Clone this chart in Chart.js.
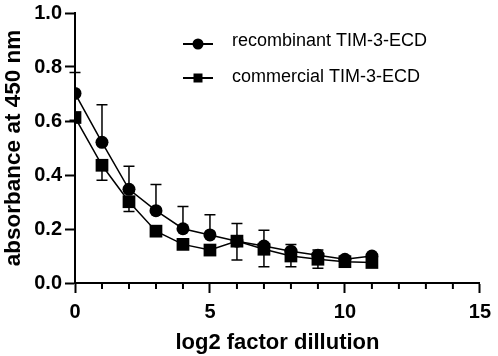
<!DOCTYPE html>
<html>
<head>
<meta charset="utf-8">
<script src="https://cdn.jsdelivr.net/npm/chart.js@4.4.0/dist/chart.umd.min.js"></script>
<style>
  html, body { margin: 0; padding: 0; background: #ffffff; }
  #wrap { width: 498px; height: 356px; }
</style>
</head>
<body>
<div id="wrap"><canvas id="elisa-chart" width="498" height="356"></canvas></div>
<script>
// dilution steps (log2)
const dilutions = [0, 1, 2, 3, 4, 5, 6, 7, 8, 9, 10, 11];

// recombinant TIM-3-ECD
const recombinant = [0.702, 0.521, 0.347, 0.268, 0.201, 0.178, 0.155, 0.137, 0.118, 0.103, 0.088, 0.100];
const recombinantErrUp = [0.078, 0.139, 0.085, 0.097, 0.082, 0.075, 0.065, 0.058, 0.025, 0.019, 0.008, 0.008];

// commercial TIM-3-ECD
const commercial = [0.613, 0.436, 0.301, 0.192, 0.143, 0.122, 0.155, 0.125, 0.100, 0.088, 0.079, 0.076];
const commercialErrDown = [0.010, 0.055, 0.036, 0.010, 0.010, 0.010, 0.070, 0.065, 0.040, 0.033, 0.008, 0.008];

const seriesNames = ['recombinant TIM-3-ECD', 'commercial TIM-3-ECD'];

const yTicks = [0, 0.2, 0.4, 0.6, 0.8, 1.0];
const xTicks = [0, 5, 10, 15];

const FONT = 'Liberation Sans, Arial, Helvetica, sans-serif';

// error bars, drawn with the chart scales
const errorBars = {
  id: 'errorBars',
  beforeDatasetsDraw(chart) {
    const ctx = chart.ctx;
    const xs = chart.scales.x;
    const ys = chart.scales.y;
    ctx.save();
    ctx.strokeStyle = '#000';
    ctx.lineWidth = 1.5;
    const draw = (vals, errs, dir) => {
      vals.forEach((v, i) => {
        const px = xs.getPixelForValue(dilutions[i]);
        const p0 = ys.getPixelForValue(v);
        const p1 = ys.getPixelForValue(v + dir * errs[i]);
        ctx.beginPath();
        ctx.moveTo(px, p0);
        ctx.lineTo(px, p1);
        ctx.moveTo(px - 5.5, p1);
        ctx.lineTo(px + 5.5, p1);
        ctx.stroke();
      });
    };
    draw(recombinant, recombinantErrUp, 1);
    draw(commercial, commercialErrDown, -1);
    ctx.restore();
  }
};

// short minor ticks on the x axis (majors come from the scale itself)
const minorTicks = {
  id: 'minorTicks',
  afterDraw(chart) {
    const ctx = chart.ctx;
    const xs = chart.scales.x;
    const y0 = chart.chartArea.bottom;
    ctx.save();
    ctx.strokeStyle = '#000';
    ctx.lineWidth = 2;
    for (let v = xs.min; v <= xs.max; v++) {
      if (xTicks.includes(v)) continue;
      const px = xs.getPixelForValue(v);
      ctx.beginPath();
      ctx.moveTo(px, y0);
      ctx.lineTo(px, y0 + 6);
      ctx.stroke();
    }
    ctx.restore();
  }
};

// legend in the style of the original (line through marker)
const insideLegend = {
  id: 'insideLegend',
  afterDraw(chart) {
    const ctx = chart.ctx;
    ctx.save();
    const rows = [
      { y: 44, ty: 41, style: 'circle' },
      { y: 78, ty: 77, style: 'rect' }
    ];
    rows.forEach((r, i) => {
      ctx.strokeStyle = '#000';
      ctx.fillStyle = '#000';
      ctx.lineWidth = 2;
      ctx.beginPath();
      ctx.moveTo(183, r.y);
      ctx.lineTo(213, r.y);
      ctx.stroke();
      ctx.beginPath();
      if (r.style === 'circle') {
        ctx.arc(198, r.y, 5.5, 0, Math.PI * 2);
      } else {
        ctx.rect(193.5, r.y - 4.5, 9, 9);
      }
      ctx.fill();
      ctx.font = '18px ' + FONT;
      ctx.textBaseline = 'middle';
      ctx.textAlign = 'left';
      ctx.fillText(seriesNames[i], 232, r.ty);
    });
    ctx.restore();
  }
};

const ctx = document.getElementById('elisa-chart').getContext('2d');
new Chart(ctx, {
  type: 'line',
  data: {
    datasets: [
      {
        label: seriesNames[0],
        data: dilutions.map((d, i) => ({ x: d, y: recombinant[i] })),
        borderColor: '#000',
        backgroundColor: '#000',
        borderWidth: 1.5,
        pointStyle: 'circle',
        pointRadius: 6.5,
        pointBorderWidth: 0,
        tension: 0
      },
      {
        label: seriesNames[1],
        data: dilutions.map((d, i) => ({ x: d, y: commercial[i] })),
        borderColor: '#000',
        backgroundColor: '#000',
        borderWidth: 1.5,
        pointStyle: 'rect',
        pointRadius: 9,
        pointBorderWidth: 0,
        tension: 0
      }
    ]
  },
  options: {
    responsive: false,
    animation: false,
    layout: { padding: { top: 10, right: 14, left: 0, bottom: 0 } },
    plugins: {
      legend: { display: false },
      tooltip: { enabled: false }
    },
    scales: {
      x: {
        type: 'linear',
        min: 0,
        max: 15,
        afterFit: s => { s.height = 73; },
        border: { color: '#000', width: 2 },
        grid: {
          drawOnChartArea: false,
          color: '#000',
          tickColor: c => (xTicks.includes(c.tick && c.tick.value) ? '#000' : 'rgba(0,0,0,0)'),
          tickLength: 10,
          tickWidth: 2
        },
        ticks: {
          stepSize: 1,
          autoSkip: false,
          maxRotation: 0,
          padding: 7,
          color: '#000',
          font: { family: FONT, size: 20, weight: 'bold' },
          callback: v => (xTicks.includes(v) ? String(v) : '')
        },
        title: {
          display: true,
          text: 'log2 factor dillution',
          color: '#000',
          padding: { top: 0, bottom: 0 },
          font: { family: FONT, size: 22, weight: 'bold' }
        }
      },
      y: {
        type: 'linear',
        min: 0,
        max: 1,
        afterFit: s => { s.width = 75; },
        afterBuildTicks: s => { s.ticks = yTicks.map(v => ({ value: v })); },
        border: { color: '#000', width: 2 },
        grid: { drawOnChartArea: false, color: '#000', tickColor: '#000', tickLength: 10, tickWidth: 2 },
        ticks: {
          padding: 3,
          color: '#000',
          font: { family: FONT, size: 20, weight: 'bold', lineHeight: 1.0 },
          callback: v => v.toFixed(1)
        },
        title: {
          display: true,
          text: 'absorbance at 450 nm',
          color: '#000',
          padding: { top: 0, bottom: 0 },
          font: { family: FONT, size: 22.5, weight: 'bold' }
        }
      }
    }
  },
  plugins: [errorBars, minorTicks, insideLegend]
});
</script>
</body>
</html>
